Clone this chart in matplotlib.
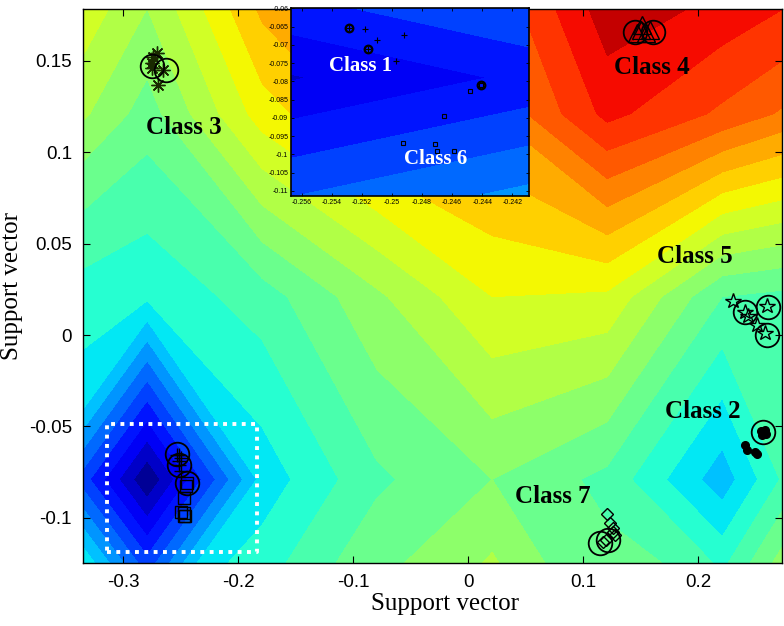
import numpy as np
import matplotlib
matplotlib.use("Agg")
import matplotlib.pyplot as plt

plt.rcParams['axes.unicode_minus'] = False

# ---------------- data ----------------
# background decision surface, sampled on a coarse grid (colour-band units)
grid_x = [-0.379, -0.279, -0.179, -0.079, 0.021, 0.121, 0.221, 0.321]
grid_y = [-0.179, -0.079, 0.021, 0.121, 0.221]
field_row_1 = [10.0, 9.5, 10.8, 12.8, 14.5, 12.0, 12.5, 13.0]   # y = -0.179
field_row_2 = [8.0, 0.05, 8.4, 10.8, 12.0, 10.7, 7.4, 12.6]     # y = -0.079
field_row_3 = [10.0, 9.2, 10.5, 12.8, 15.0, 14.8, 11.0, 10.5]   # y =  0.021
field_row_4 = [14.5, 11.5, 15.5, 17.5, 18.0, 21.3, 19.8, 18.0]  # y =  0.121
field_row_5 = [14.8, 14.1, 18.5, 19.0, 20.0, 23.5, 23.0, 22.0]  # y =  0.221
band_levels = list(range(0, 25))

class1_x = [-0.25283, -0.25176, -0.25100, -0.25156, -0.24923, -0.24971]
class1_y = [-0.06550, -0.06567, -0.06876, -0.07120, -0.06731, -0.07451]
class6_x = [-0.24407, -0.24483, -0.24656, -0.24929, -0.24716, -0.24700, -0.24590]
class6_y = [-0.08100, -0.08263, -0.08939, -0.09678, -0.09722, -0.09905, -0.09897]
sv16_x = [-0.25283, -0.25156, -0.24407]
sv16_y = [-0.06530, -0.07120, -0.08100]

class3_x = [-0.2707, -0.2750, -0.2750, -0.2650, -0.2693, -0.2739]
class3_y = [0.1541, 0.1486, 0.1461, 0.1450, 0.1368, 0.1521]
sv3_x = [-0.2750, -0.2629]
sv3_y = [0.1469, 0.1450]

class4_x = [0.1513, 0.1470, 0.1548, 0.1500, 0.1580]
class4_y = [0.1696, 0.1652, 0.1652, 0.1670, 0.1670]
sv4_x = [0.1452, 0.1611]
sv4_y = [0.1659, 0.1659]

class5_x = [0.2307, 0.2409, 0.2435, 0.2597, 0.2510, 0.2583]
class5_y = [0.0188, 0.0128, 0.0104, 0.0159, 0.0055, 0.0011]
sv5_x = [0.2409, 0.2611, 0.2597]
sv5_y = [0.0127, 0.0155, 0.0000]

class2_x = [0.2548, 0.2583, 0.2557, 0.2591, 0.2409, 0.2429, 0.2496, 0.2516]
class2_y = [-0.0525, -0.0520, -0.0547, -0.0542, -0.0602, -0.0629, -0.0638, -0.0651]
sv2_x = [0.2568]
sv2_y = [-0.0532]

class7_x = [0.1211, 0.1235, 0.1261, 0.1261, 0.1278, 0.1200, 0.1174]
class7_y = [-0.0979, -0.1028, -0.1056, -0.1078, -0.1094, -0.1121, -0.1132]
sv7_x = [0.1148, 0.1220]
sv7_y = [-0.1139, -0.1121]

main_xticks = [-0.3, -0.2, -0.1, 0.0, 0.1, 0.2]
main_xticklabels = ["-0.3", "-0.2", "-0.1", "0", "0.1", "0.2"]
main_yticks = [-0.1, -0.05, 0.0, 0.05, 0.1, 0.15]
main_yticklabels = ["-0.1", "-0.05", "0", "0.05", "0.1", "0.15"]
inset_xticks = [-0.256, -0.254, -0.252, -0.250, -0.248, -0.246, -0.244, -0.242]
inset_xticklabels = ["-0.256", "-0.254", "-0.252", "-0.25", "-0.248", "-0.246", "-0.244", "-0.242"]
inset_yticks = [-0.06, -0.065, -0.07, -0.075, -0.08, -0.085, -0.09, -0.095, -0.1, -0.105, -0.11]
inset_yticklabels = ["-0.06", "-0.065", "-0.07", "-0.075", "-0.08", "-0.085", "-0.09",
                     "-0.095", "-0.1", "-0.105", "-0.11"]

zoom_box_x = [-0.3139, -0.1835]
zoom_box_y = [-0.1187, -0.0487]

main_labels = ["Class 3", "Class 4", "Class 5", "Class 2", "Class 7"]
main_label_x = [-0.2474, 0.1596, 0.1970, 0.2044, 0.0739]
main_label_y = [0.1133, 0.1461, 0.0427, -0.0416, -0.0881]
inset_labels = ["Class 1", "Class 6"]
inset_label_x = [-0.25211, -0.24711]
inset_label_y = [-0.07579, -0.10124]

# ---------------- figure ----------------
field = np.array([field_row_1, field_row_2, field_row_3, field_row_4, field_row_5])

fig = plt.figure(figsize=(7.84, 6.26), dpi=100)
ax = fig.add_axes([83/784, 1 - 563/626, (782 - 83)/784, (563 - 9)/626])
ax.contourf(grid_x, grid_y, field, levels=band_levels, cmap='jet', vmin=0, vmax=24,
            antialiased=False)
ax.set_xlim(-0.3348, 0.2730)
ax.set_ylim(-0.1247, 0.1783)

circ = dict(linestyle='none', marker='o', mfc='none', mec='k', ms=17, mew=1.3, zorder=5)
ax.plot(class3_x, class3_y, linestyle='none', marker=(8, 2, 0), color='#1a2a00', ms=10, mew=1.0, zorder=4)
ax.plot(sv3_x, sv3_y, **circ)
ax.plot(class4_x, class4_y, linestyle='none', marker='^', mfc='none', mec='k', ms=13, mew=1.0, zorder=4)
ax.plot(sv4_x, sv4_y, **circ)
ax.plot(class5_x, class5_y, linestyle='none', marker='*', mfc='none', mec='k', ms=11.5, mew=1.0, zorder=4)
ax.plot(sv5_x, sv5_y, **circ)
ax.plot(class2_x, class2_y, linestyle='none', marker='o', mfc='k', mec='k', ms=5.5, zorder=4)
ax.plot(sv2_x, sv2_y, **circ)
ax.plot(class7_x, class7_y, linestyle='none', marker='D', mfc='none', mec='k', ms=6.5, mew=1.0, zorder=4)
ax.plot(sv7_x, sv7_y, **circ)
ax.plot(class1_x, class1_y, linestyle='none', marker='+', color='k', ms=10, mew=1.0, zorder=4)
ax.plot(class6_x, class6_y, linestyle='none', marker='s', mfc='none', mec='k', ms=9, mew=1.0, zorder=4)
ax.plot(sv16_x, sv16_y, **circ)

bx = [zoom_box_x[0], zoom_box_x[1], zoom_box_x[1], zoom_box_x[0], zoom_box_x[0]]
by = [zoom_box_y[0], zoom_box_y[0], zoom_box_y[1], zoom_box_y[1], zoom_box_y[0]]
ax.plot(bx, by, color='white', lw=2.8, linestyle=(0, (1, 1.4)), dash_capstyle='butt',
        solid_capstyle='butt', zorder=6)

for t, x, y in zip(main_labels, main_label_x, main_label_y):
    ax.text(x, y, t, family='Liberation Serif', fontweight='bold', fontsize=18,
            ha='center', va='center', color='black', zorder=7)

ax.set_xticks(main_xticks)
ax.set_xticklabels(main_xticklabels)
ax.set_yticks(main_yticks)
ax.set_yticklabels(main_yticklabels)
ax.tick_params(direction='in', top=True, right=True, length=5, width=0.8,
               labelsize=13.5, pad=8)
for lab in ax.get_xticklabels() + ax.get_yticklabels():
    lab.set_family('Liberation Sans')
for sp in ax.spines.values():
    sp.set_linewidth(1.0)
ax.set_xlabel("Support vector", family='Liberation Serif', fontsize=18, labelpad=4)
ax.set_ylabel("Support vector", family='Liberation Serif', fontsize=18, labelpad=4)
ax.xaxis.set_label_coords(0.518, -0.055)

# ---------------- inset ----------------
ins = fig.add_axes([291/784, 1 - 196/626, (529 - 291)/784, (196 - 8.3)/626])
ins.contourf(grid_x, grid_y, field, levels=band_levels, cmap='jet', vmin=0, vmax=24,
             antialiased=False)
ins.set_xlim(-0.2567, -0.2409)
ins.set_ylim(-0.1114, -0.0600)
ins.plot(class1_x, class1_y, linestyle='none', marker='+', color='k', ms=4.5, mew=0.8, zorder=4)
ins.plot(class6_x, class6_y, linestyle='none', marker='s', mfc='none', mec='k', ms=3.2, mew=0.8, zorder=4)
ins.plot(sv16_x, sv16_y, linestyle='none', marker='o', mfc='none', mec='k', ms=5.5, mew=1.6, zorder=5)
for t, x, y in zip(inset_labels, inset_label_x, inset_label_y):
    ins.text(x, y, t, family='Liberation Serif', fontweight='bold', fontsize=15,
             ha='center', va='center', color='white', zorder=7)
ins.set_xticks(inset_xticks)
ins.set_xticklabels(inset_xticklabels)
ins.set_yticks(inset_yticks)
ins.set_yticklabels(inset_yticklabels)
ins.tick_params(direction='in', top=True, right=True, length=2.5, width=0.6,
                labelsize=5, pad=2)
for lab in ins.get_xticklabels() + ins.get_yticklabels():
    lab.set_family('Liberation Sans')
for sp in ins.spines.values():
    sp.set_linewidth(1.2)

fig.savefig("out.png", dpi=100)
